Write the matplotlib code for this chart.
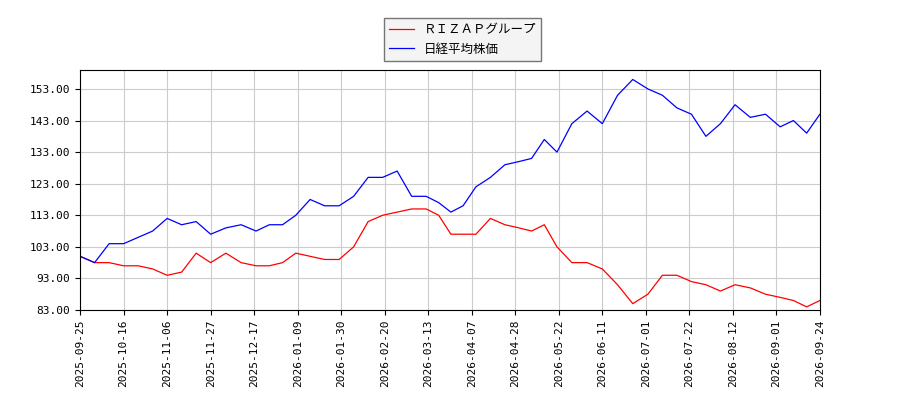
import numpy as np
import pandas as pd
import matplotlib
matplotlib.use('Agg')
import matplotlib.pyplot as plt

plt.rcParams['font.family'] = ['Noto Sans CJK JP', 'DejaVu Sans']

# 週ごとの読み取り値
dates = pd.date_range('2025-09-25', periods=53, freq='7D')
rizap = [100, 98, 98, 97, 97, 96, 94, 95, 101, 98, 101, 98, 97, 97, 98, 101, 100, 99, 99, 103,
         111, 113, 114, 115, 115, 113, 107, 107, 107, 112, 110, 109, 108, 110, 103, 98, 98, 96,
         91, 85, 88, 94, 94, 92, 91, 89, 91, 90, 88, 87, 86, 84, 86]
nikkei = [100, 98, 104, 104, 106, 108, 112, 110, 111, 107, 109, 110, 108, 110, 110, 113, 118, 116,
          116, 119, 125, 125, 127, 119, 119, 117, 114, 116, 122, 125, 129, 130, 131, 137, 133, 142,
          146, 142, 151, 156, 153, 151, 147, 145, 138, 142, 148, 144, 145, 141, 143, 139, 145]
tick_dates = ['2025-09-25', '2025-10-16', '2025-11-06', '2025-11-27', '2025-12-17', '2026-01-09',
              '2026-01-30', '2026-02-20', '2026-03-13', '2026-04-07', '2026-04-28', '2026-05-22',
              '2026-06-11', '2026-07-01', '2026-07-22', '2026-08-12', '2026-09-01', '2026-09-24']
yticks = [83, 93, 103, 113, 123, 133, 143, 153]

# 営業日ベースの軸: 目盛りは等間隔
ticks = pd.to_datetime(tick_dates)
tick_num = ticks.values.astype('int64')
x = np.interp(dates.values.astype('int64'), tick_num, np.arange(len(ticks)))

fig = plt.figure(figsize=(9, 4), dpi=100)
ax = fig.add_axes([0.089, 0.225, 0.822, 0.6])
ax.plot(x, rizap, color='red', lw=0.9, label='ＲＩＺＡＰグループ')
ax.plot(x, nikkei, color='blue', lw=0.9, label='日経平均株価')

ax.set_xticks(np.arange(len(ticks)))
ax.set_xticklabels([t.strftime('%Y-%m-%d') for t in ticks], rotation=90,
                   family='DejaVu Sans Mono', fontsize=8)
ax.set_xlim(0, len(ticks) - 1)
ax.set_yticks(yticks)
ax.set_yticklabels([f'{v:.2f}' for v in yticks], family='DejaVu Sans Mono', fontsize=8)
ax.set_ylim(83, 159)
ax.grid(True, color='#cccccc', lw=0.8)

fig.legend(loc='upper center', bbox_to_anchor=(0.514, 0.97), fontsize=9,
           fancybox=False, edgecolor='#555555', facecolor='#f2f2f2')
fig.savefig('out.png')
